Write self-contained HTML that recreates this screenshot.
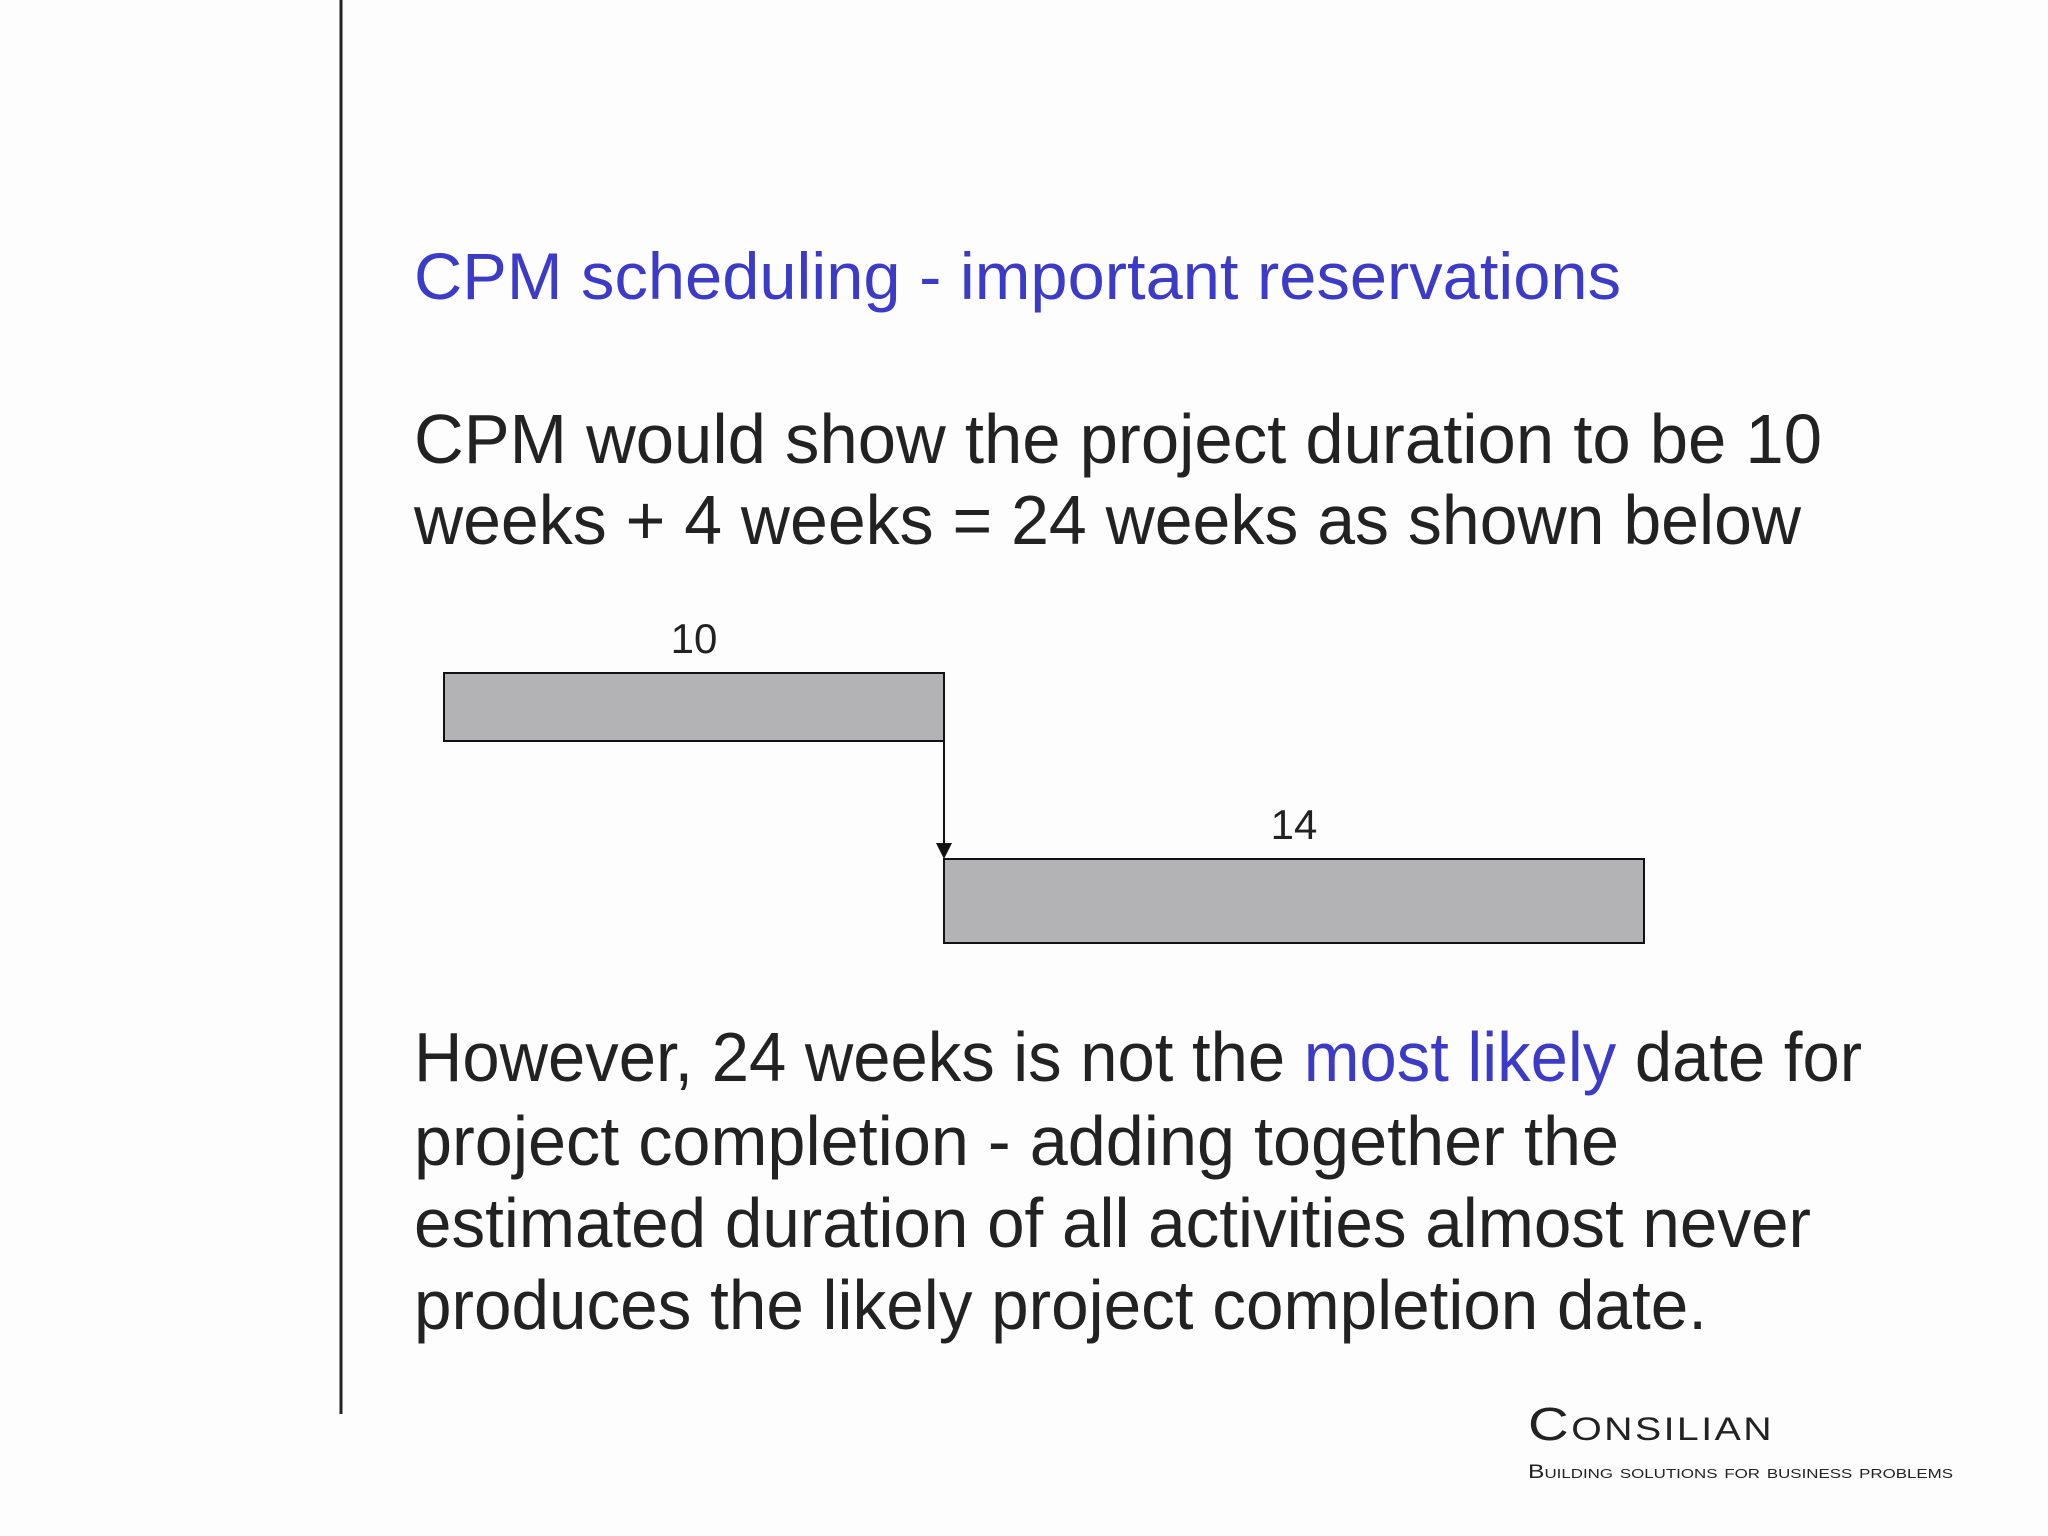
<!DOCTYPE html>
<html><head><meta charset="utf-8"><style>
html,body{margin:0;padding:0;background:#fdfdfd;}
svg{display:block;font-family:"Liberation Sans",sans-serif;}
</style></head><body>
<svg width="2048" height="1536" viewBox="0 0 2048 1536">
<rect x="0" y="0" width="2048" height="1536" fill="#fdfdfd"/>
<line x1="341" y1="0" x2="341" y2="1414" stroke="#222" stroke-width="3"/>
<text x="414" y="299" font-size="66" fill="#3b3bc8" textLength="1207" lengthAdjust="spacingAndGlyphs">CPM scheduling - important reservations</text>
<g font-size="70" fill="#222">
<text x="414" y="463" textLength="1408" lengthAdjust="spacingAndGlyphs">CPM would show the project duration  to be 10</text>
<text x="414" y="544" textLength="1387" lengthAdjust="spacingAndGlyphs">weeks + 4 weeks = 24 weeks as shown below</text>
</g>
<g id="chart"></g>
<g font-size="70" fill="#222">
<text x="414" y="1081" textLength="1448" lengthAdjust="spacingAndGlyphs">However, 24 weeks is not the <tspan fill="#3b3bc8">most likely</tspan> date for</text>
<text x="414" y="1165" textLength="1205" lengthAdjust="spacingAndGlyphs">project completion - adding together the</text>
<text x="414" y="1247" textLength="1397" lengthAdjust="spacingAndGlyphs">estimated duration of all activities almost never</text>
<text x="414" y="1329" textLength="1293" lengthAdjust="spacingAndGlyphs">produces the likely project completion date.</text>
</g>
<text x="1528" y="1440" font-size="46" fill="#222" textLength="246" lengthAdjust="spacingAndGlyphs" style="font-variant:small-caps;letter-spacing:2px">Consilian</text>
<text x="1528" y="1478" font-size="19" fill="#222" textLength="425" lengthAdjust="spacingAndGlyphs" style="font-variant:small-caps">Building solutions for business problems</text>
</svg>
<script>
const taskStarts = [0, 10];
const taskDurations = [10, 14];
const taskLabels = ["10", "14"];
const NS = "http://www.w3.org/2000/svg";
const g = document.getElementById('chart');
const x0 = 444, pxPerWeek = 50;
const xScale = w => x0 + w * pxPerWeek;
const rowTop = [673, 859], rowH = [68, 84];
function mk(tag, attrs){const e=document.createElementNS(NS,tag);for(const k in attrs)e.setAttribute(k,attrs[k]);g.appendChild(e);return e;}
taskStarts.forEach((s,i)=>{
  const xa = xScale(s), xb = xScale(s + taskDurations[i]);
  const r = mk('rect',{x:xa,y:rowTop[i],width:xb-xa,height:rowH[i],fill:'#b3b2b4',stroke:'#111','stroke-width':2});
  
  
  const t = mk('text',{x:(xa+xb)/2,y:rowTop[i]-20,'font-size':42,'text-anchor':'middle',fill:'#222'});
  t.textContent = taskLabels[i];
  
  
});
const ax = xScale(taskStarts[0] + taskDurations[0]);
const ln = mk('line',{x1:ax,y1:rowTop[0]+rowH[0],x2:ax,y2:rowTop[1]-14,stroke:'#111','stroke-width':2});


const ah = mk('polygon',{points:`${ax-8},${rowTop[1]-16} ${ax+8},${rowTop[1]-16} ${ax},${rowTop[1]}`,fill:'#111'});


</script>
</body></html>
